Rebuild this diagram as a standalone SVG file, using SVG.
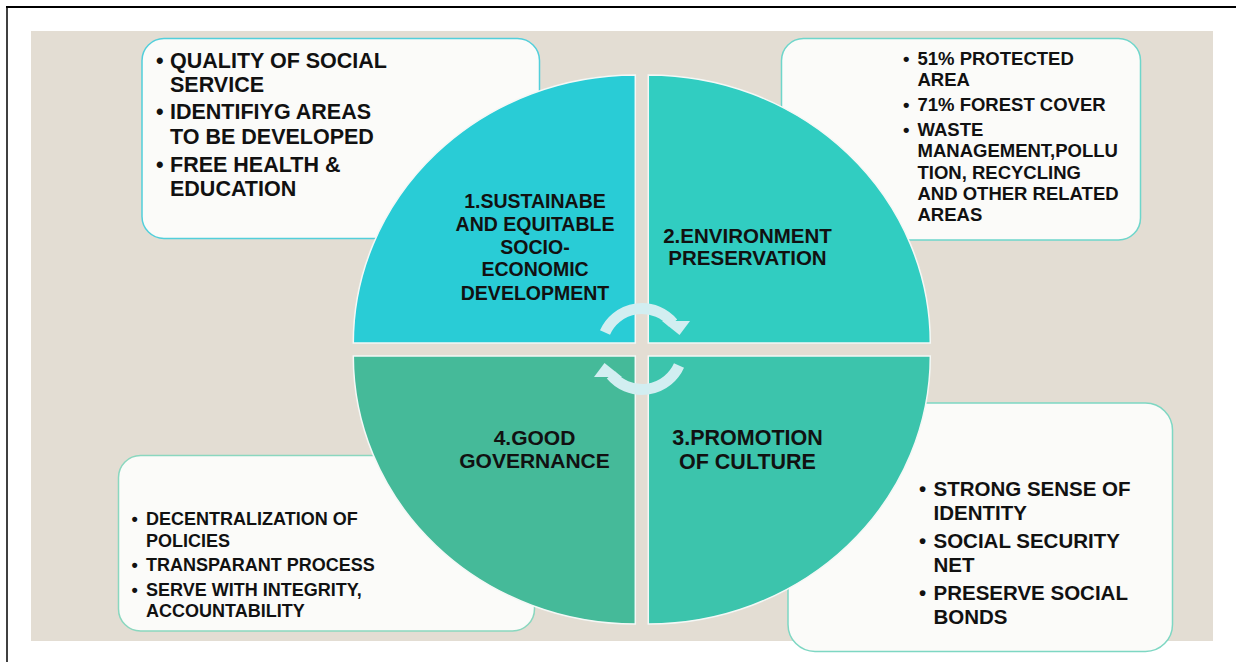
<svg xmlns="http://www.w3.org/2000/svg" width="1236" height="662" viewBox="0 0 1236 662">
<style>
  text { font-family: "Liberation Sans", Arial, sans-serif; font-weight: bold; fill: #111; }
  .box { fill: #FBFBF9; stroke-width: 1.5; }
  .q { stroke: #F4F8F6; stroke-width: 1.5; }
  .mid { text-anchor: middle; }
  .arc { fill: none; stroke: #D2EEF1; stroke-width: 11; }
  .head { fill: #D2EEF1; }
</style>
<rect x="0" y="0" width="1236" height="662" fill="#FFFFFF"/>
<line x1="6" y1="7" x2="1236" y2="7" stroke="#000" stroke-width="2.2"/>
<line x1="7" y1="6" x2="7" y2="662" stroke="#000" stroke-width="1.5"/>
<rect x="31" y="31" width="1182" height="610" fill="#E3DDD3"/>

<g id="box-social">
  <rect class="box" x="142" y="38.5" width="397.5" height="200" rx="22" stroke="#52CFDB"/>
  <g font-size="21.5">
    <text x="156" y="68">•</text>
    <text x="170" y="68">QUALITY OF SOCIAL</text>
    <text x="170" y="92">SERVICE</text>
    <text x="156" y="119">•</text>
    <text x="170" y="119">IDENTIFIYG AREAS</text>
    <text x="170" y="144">TO BE DEVELOPED</text>
    <text x="156" y="172">•</text>
    <text x="170" y="172">FREE HEALTH &amp;</text>
    <text x="170" y="196">EDUCATION</text>
  </g>
</g>

<g id="box-environment">
  <rect class="box" x="781.5" y="38.5" width="359" height="201.5" rx="22" stroke="#6ED6CB"/>
  <g font-size="18.5">
    <text x="903" y="65">•</text>
    <text x="917.5" y="65">51% PROTECTED</text>
    <text x="917.5" y="86">AREA</text>
    <text x="903" y="111">•</text>
    <text x="917.5" y="111">71% FOREST COVER</text>
    <text x="903" y="136">•</text>
    <text x="917.5" y="136">WASTE</text>
    <text x="917.5" y="157">MANAGEMENT,POLLU</text>
    <text x="917.5" y="179">TION, RECYCLING</text>
    <text x="917.5" y="200">AND OTHER RELATED</text>
    <text x="917.5" y="221">AREAS</text>
  </g>
</g>

<g id="box-governance">
  <rect class="box" x="118.5" y="455.5" width="416" height="175.5" rx="22" stroke="#8AD7BF"/>
  <g font-size="18">
    <text x="131.5" y="525">•</text>
    <text x="146" y="525">DECENTRALIZATION OF</text>
    <text x="146" y="547">POLICIES</text>
    <text x="131.5" y="571">•</text>
    <text x="146" y="571">TRANSPARANT PROCESS</text>
    <text x="131.5" y="596">•</text>
    <text x="146" y="596">SERVE WITH INTEGRITY,</text>
    <text x="146" y="617">ACCOUNTABILITY</text>
  </g>
</g>

<g id="box-culture">
  <rect class="box" x="788" y="403" width="384.5" height="248.5" rx="27" stroke="#7ED7C3"/>
  <g font-size="20.5">
    <text x="919" y="496">•</text>
    <text x="933.5" y="496">STRONG SENSE OF</text>
    <text x="933.5" y="520">IDENTITY</text>
    <text x="919" y="547.5">•</text>
    <text x="933.5" y="547.5">SOCIAL SECURITY</text>
    <text x="933.5" y="572">NET</text>
    <text x="919" y="599.5">•</text>
    <text x="933.5" y="599.5">PRESERVE SOCIAL</text>
    <text x="933.5" y="623.5">BONDS</text>
  </g>
</g>

<g id="q1-socio-economic">
  <path class="q" d="M635.3,343 L353.3,343 A282,268 0 0 1 635.3,75 Z" fill="#29CCD6"/>
  <g font-size="19.5" class="mid">
    <text class="mid" x="535" y="207.5">1.SUSTAINABE</text>
    <text class="mid" x="535" y="230.5">AND EQUITABLE</text>
    <text class="mid" x="535" y="253.5">SOCIO-</text>
    <text class="mid" x="535" y="276">ECONOMIC</text>
    <text class="mid" x="535" y="299.5">DEVELOPMENT</text>
  </g>
</g>

<g id="q2-environment">
  <path class="q" d="M648.3,343 L648.3,75 A282,268 0 0 1 930.3,343 Z" fill="#31CDC1"/>
  <g font-size="20.5">
    <text class="mid" x="747.5" y="243">2.ENVIRONMENT</text>
    <text class="mid" x="747.5" y="265">PRESERVATION</text>
  </g>
</g>

<g id="q3-culture">
  <path class="q" d="M648.3,356 L930.3,356 A282,268 0 0 1 648.3,624 Z" fill="#3CC4AC"/>
  <g font-size="21.5">
    <text class="mid" x="747.5" y="445">3.PROMOTION</text>
    <text class="mid" x="747.5" y="468.5">OF CULTURE</text>
  </g>
</g>

<g id="q4-governance">
  <path class="q" d="M635.3,356 L635.3,624 A282,268 0 0 1 353.3,356 Z" fill="#45BA99"/>
  <g font-size="21">
    <text class="mid" x="534.5" y="445">4.GOOD</text>
    <text class="mid" x="534.5" y="468">GOVERNANCE</text>
  </g>
</g>

<g id="connectors">
  <path class="arc" d="M605,332.5 A40.5,40.5 0 0 1 673,323"/>
  <polygon class="head" points="662,321 690,321 679.5,335"/>
  <path class="arc" d="M679,365.5 A40.5,40.5 0 0 1 611,375"/>
  <polygon class="head" points="622,377 594,377 604.5,363"/>
</g>
</svg>
